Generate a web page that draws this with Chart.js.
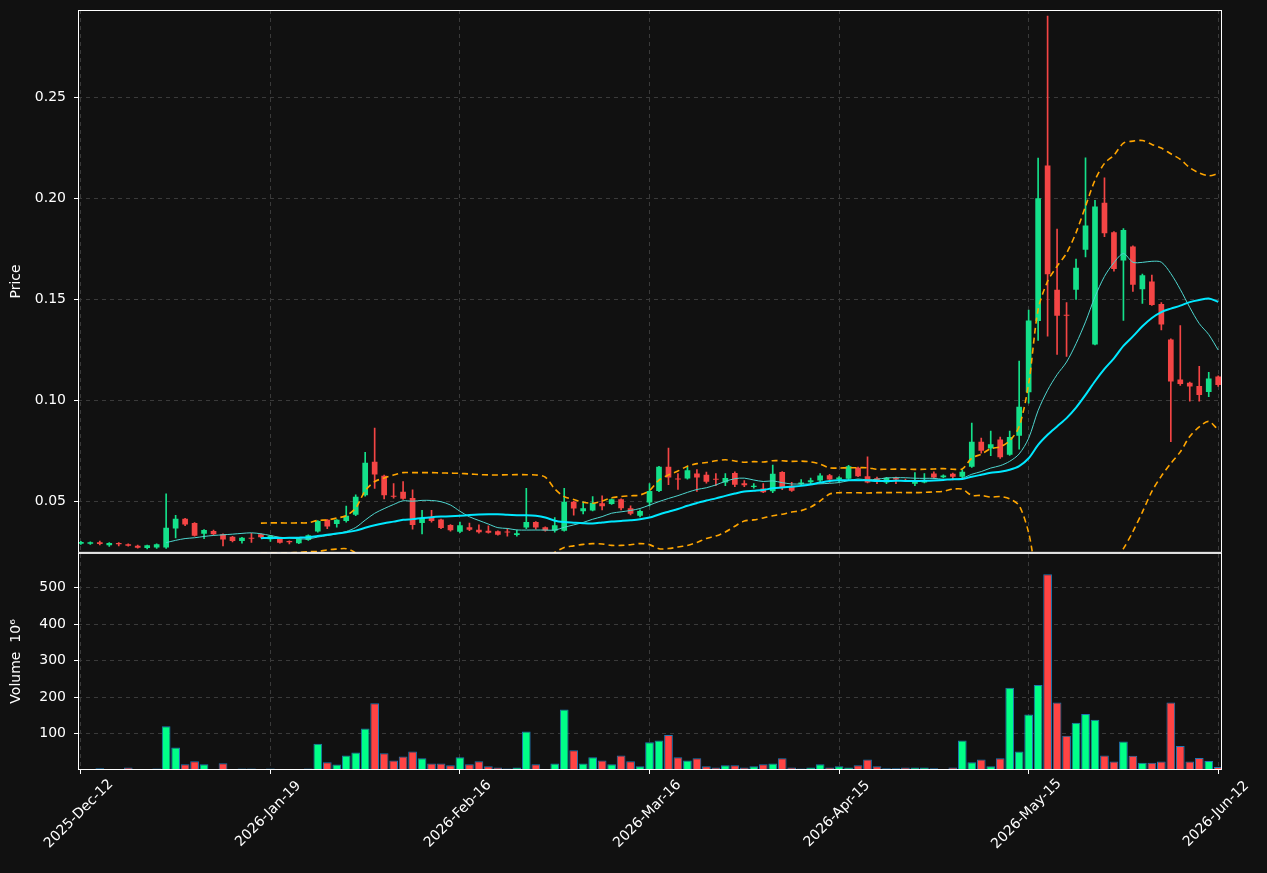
<!DOCTYPE html>
<html><head><meta charset="utf-8">
<script src="https://cdn.jsdelivr.net/npm/chart.js@4/dist/chart.umd.min.js"></script>
<style>html,body{margin:0;padding:0;background:#111111;}#wrap{width:1267px;height:873px;}</style>
</head><body><div id="wrap"><canvas id="c"></canvas></div>
<script>
const tickIndex = [0,20,40,60,80,100,120];
const tickLabels = ['2025-Dec-12','2026-Jan-19','2026-Feb-16','2026-Mar-16','2026-Apr-15','2026-May-15','2026-Jun-12'];
const opens = [.0293,.0293,.0300,.0285,.0297,.0290,.0283,.0272,.0275,.0275,.0368,.0416,.0396,.0343,.0356,.0340,.0328,.0306,.0322,.0340,
.0315,.0320,.0306,.0295,.0312,.0353,.0411,.0391,.0406,.0436,.0532,.0698,.0629,.0528,.0550,.0519,.0396,.0424,.0413,.0386,
.0352,.0375,.0362,.0357,.0355,.0351,.0336,.0373,.0401,.0375,.0357,.0357,.0500,.0454,.0457,.0493,.0489,.0513,.0469,.0431,
.0497,.0554,.0673,.0612,.0615,.0640,.0634,.0613,.0595,.0643,.0592,.0573,.0566,.0552,.0647,.0580,.0587,.0597,.0605,.0632,
.0610,.0614,.0668,.0627,.0617,.0596,.0619,.0605,.0589,.0596,.0640,.0622,.0639,.0624,.0673,.0797,.0763,.0808,.0733,.0826,
.1041,.1394,.2162,.1548,.1423,.1548,.1746,.1277,.1978,.1832,.1693,.1761,.1550,.1589,.1478,.1302,.1104,.1089,.1072,.1043,.1119];
const highs = [.0305,.0303,.0306,.0299,.0299,.0293,.0287,.0287,.0292,.0540,.0434,.0418,.0398,.0363,.0360,.0342,.0330,.0325,.0345,.0342,
.0335,.0322,.0308,.0321,.0337,.0408,.0413,.0413,.0479,.0535,.0745,.0865,.0632,.0590,.0600,.0560,.0458,.0458,.0415,.0388,
.0400,.0395,.0387,.0382,.0357,.0368,.0361,.0567,.0403,.0377,.0422,.0567,.0503,.0500,.0526,.0530,.0515,.0515,.0480,.0460,
.0590,.0676,.0766,.0640,.0670,.0660,.0647,.0640,.0640,.0648,.0605,.0590,.0590,.0682,.0650,.0596,.0610,.0618,.0640,.0636,
.0625,.0680,.0672,.0723,.0622,.0621,.0622,.0612,.0645,.0640,.0648,.0634,.0642,.0660,.0889,.0815,.0850,.0820,.0850,.1195,
.1447,.2198,.2900,.1848,.1485,.1700,.2200,.1990,.2101,.1835,.1850,.1765,.1625,.1620,.1485,.1305,.1371,.1092,.1170,.1140,.1122];
const lows = [.0290,.0290,.0287,.0280,.0282,.0281,.0271,.0268,.0270,.0270,.0322,.0382,.0330,.0318,.0336,.0282,.0302,.0296,.0300,.0322,
.0305,.0296,.0292,.0293,.0310,.0350,.0368,.0375,.0400,.0432,.0528,.0566,.0515,.0518,.0512,.0365,.0342,.0400,.0368,.0355,
.0348,.0358,.0345,.0345,.0335,.0330,.0330,.0368,.0365,.0355,.0350,.0355,.0434,.0440,.0455,.0460,.0487,.0460,.0436,.0425,
.0480,.0550,.0585,.0562,.0612,.0551,.0592,.0580,.0580,.0575,.0575,.0568,.0545,.0545,.0560,.0552,.0580,.0590,.0600,.0596,
.0600,.0608,.0625,.0594,.0590,.0590,.0590,.0600,.0580,.0594,.0615,.0618,.0608,.0615,.0670,.0740,.0728,.0715,.0730,.0760,
.0988,.1297,.1318,.1228,.1218,.1500,.1710,.1275,.1810,.1640,.1396,.1540,.1480,.1470,.1350,.0797,.1075,.0997,.0997,.1020,.1070];
const closes = [.0302,.0300,.0292,.0297,.0290,.0283,.0273,.0285,.0290,.0372,.0416,.0388,.0332,.0361,.0340,.0314,.0306,.0323,.0318,.0325,
.0332,.0298,.0300,.0319,.0335,.0406,.0378,.0411,.0431,.0525,.0693,.0635,.0532,.0525,.0515,.0386,.0420,.0406,.0371,.0360,
.0385,.0362,.0350,.0347,.0337,.0348,.0345,.0401,.0373,.0358,.0385,.0500,.0467,.0469,.0495,.0478,.0513,.0469,.0441,.0455,
.0554,.0673,.0620,.0610,.0656,.0620,.0599,.0609,.0618,.0585,.0582,.0580,.0548,.0639,.0569,.0555,.0596,.0607,.0630,.0610,
.0620,.0676,.0627,.0596,.0599,.0619,.0611,.0603,.0605,.0605,.0620,.0630,.0624,.0649,.0797,.0752,.0785,.0720,.0821,.0970,
.1396,.2000,.1625,.1420,.1420,.1657,.1865,.1959,.1827,.1650,.1843,.1572,.1619,.1473,.1376,.1094,.1082,.1070,.1028,.1109,.1077];
const volumes = [1,2,4.5,1,1,7,1,1,4,
120,62,16,24,16,2,18.6,2,4,4,3,
4,2,1,1,4,72,21,15,40,48,114,183,46,26,37,51,32,18,18,13,
35,16,24,10,7,4,7,106,16,2,18,166,54,18,35,26,16,40,24,10,
76,81,96,35,26,32,10,7,13,13,7,10,16,18,32,7,4,7,16,7,
10,7,13,29,10,4.5,4.5,7,7,7,4.5,2,7,81,21,29,10,32,226,51,
152,233,537,185,94,130,154,138,40,23,78,39,20,20,23,185,66,23,33,25,8];

const GREEN='#14e08a', RED='#f44545', VGREEN='#00ff88', VRED='#ff4444';
const n = closes.length;
const up = closes.map((c,i)=>c>=opens[i]);
function sma(w){return closes.map((_,i)=>{if(i<w-1)return null;let s=0;for(let k=i-w+1;k<=i;k++)s+=closes[k];return s/w;});}
const ma10 = sma(10), ma20 = sma(20);
const bbU=[], bbL=[];
for(let i=0;i<n;i++){ if(i<19){bbU.push(null);bbL.push(null);continue;}
  let m=ma20[i],v=0;for(let k=i-19;k<=i;k++)v+=(closes[k]-m)**2; const sd=Math.sqrt(v/20);
  bbU.push(m+2*sd); bbL.push(m-2*sd);}
const pts = a=>a.map((v,i)=>({x:i,y:v}));

const FONT = '14px "DejaVu Sans"';
const frame = {id:'frame', afterDraw(ch){const c=ch.ctx,x=ch.scales.x;c.save();c.strokeStyle='#ffffff';c.lineWidth=1;
  ['y','y2'].forEach(k=>{const s=ch.scales[k];c.strokeRect(x.left+0.5,s.top+0.5,x.right-x.left-1,s.bottom-s.top-1);});
  c.fillStyle='#ffffff';c.font=FONT;c.textAlign='center';c.textBaseline='middle';
  tickIndex.forEach((v,k)=>{const px=x.getPixelForValue(v);c.save();c.translate(px-2,x.top+44);c.rotate(-Math.PI/4);c.fillText(tickLabels[k],0,0);c.restore();});
  c.restore();}};

const grid = {color:'#3a3a3a', drawTicks:true, tickColor:'#ffffff', tickLength:4, offset:false};
const bord = {display:false, dash:[4,4]};
const fitY = s=>{s.width=70;s.paddingTop=0;s.paddingBottom=0;};
new Chart(document.getElementById('c'),{
  data:{datasets:[
    {type:'bar',yAxisID:'y2',data:volumes.map((v,i)=>({x:i,y:v})),backgroundColor:up.map(u=>u?VGREEN:VRED),borderColor:'#1f77b4',borderWidth:1,barPercentage:0.92,categoryPercentage:1,grouped:false,order:5},
    {type:'bar',yAxisID:'y',data:closes.map((c,i)=>({x:i,y:[lows[i],highs[i]]})),backgroundColor:up.map(u=>u?GREEN:RED),barThickness:1,grouped:false,order:4},
    {type:'bar',yAxisID:'y',data:closes.map((c,i)=>({x:i,y:[opens[i],c]})),backgroundColor:up.map(u=>u?GREEN:RED),barPercentage:0.6,categoryPercentage:1,minBarLength:1,grouped:false,order:3},
    {type:'line',yAxisID:'y',data:pts(ma10),borderColor:'#4fd6cf',borderWidth:1,pointRadius:0,tension:0.3,order:2},
    {type:'line',yAxisID:'y',data:pts(ma20),borderColor:'#00e8ff',borderWidth:2,pointRadius:0,tension:0.3,order:1},
    {type:'line',yAxisID:'y',data:pts(bbU),borderColor:'#ffa500',borderWidth:1.6,borderDash:[6,4],pointRadius:0,tension:0.3,order:1},
    {type:'line',yAxisID:'y',data:pts(bbL),borderColor:'#ffa500',borderWidth:1.6,borderDash:[6,4],pointRadius:0,tension:0.3,order:1}
  ]},
  options:{responsive:true,maintainAspectRatio:false,animation:false,
    layout:{padding:{top:10,right:45,left:8,bottom:0}},
    plugins:{legend:{display:false},tooltip:{enabled:false}},
    scales:{
      x:{type:'linear',offset:false,bounds:'data',min:-0.3,max:120.4,grid:grid,border:bord,
        afterBuildTicks:s=>{s.ticks=tickIndex.map(v=>({value:v}));},
        afterFit:s=>{s.height=103;s.paddingLeft=0;s.paddingRight=0;},
        ticks:{color:'rgba(0,0,0,0)',font:{family:'DejaVu Sans',size:14},maxRotation:0,autoSkip:false,callback:()=>''}},
      y2:{type:'linear',stack:'p',stackWeight:1,min:0,max:596,position:'left',grid:grid,border:bord,
        afterFit:fitY,
        afterBuildTicks:s=>{s.ticks=[100,200,300,400,500].map(v=>({value:v}));},
        title:{display:true,text:'Volume  10\u2076',color:'#ffffff',font:{family:'DejaVu Sans',size:14},padding:0},
        ticks:{color:'#ffffff',font:{family:'DejaVu Sans',size:14},padding:8}},
      y:{type:'linear',stack:'p',stackWeight:2.5,min:0.0248,max:0.293,position:'left',grid:grid,border:bord,
        afterFit:fitY,
        afterBuildTicks:s=>{s.ticks=[0.05,0.10,0.15,0.20,0.25].map(v=>({value:v}));},
        title:{display:true,text:'Price',color:'#ffffff',font:{family:'DejaVu Sans',size:14},padding:0},
        ticks:{color:'#ffffff',font:{family:'DejaVu Sans',size:14},padding:8,callback:v=>v.toFixed(2)}}
    }},
  plugins:[frame]
});
</script></body></html>
